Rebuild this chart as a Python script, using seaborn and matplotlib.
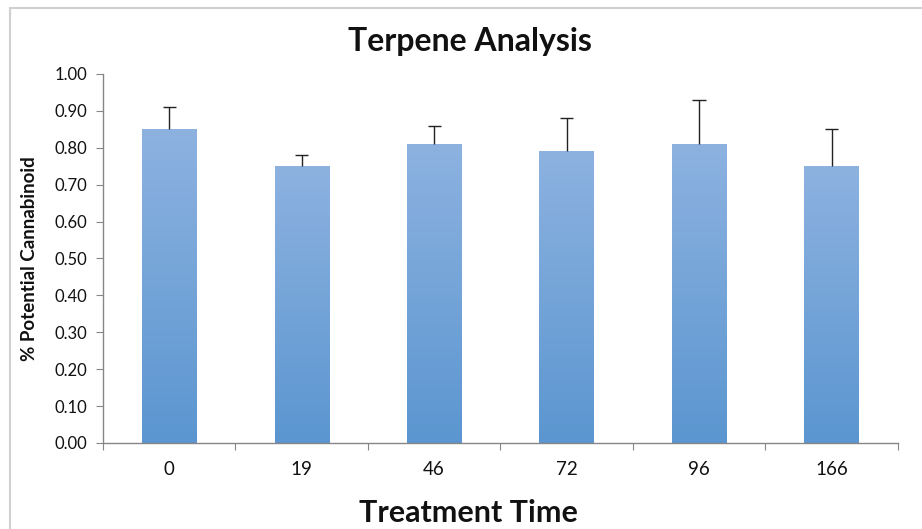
import numpy as np
import pandas as pd
import seaborn as sns
import matplotlib.pyplot as plt
from matplotlib.patches import Rectangle
from matplotlib.colors import LinearSegmentedColormap

# Data
times = ['0', '19', '46', '72', '96', '166']
means = [0.85, 0.75, 0.81, 0.79, 0.81, 0.75]
err_up = [0.06, 0.03, 0.05, 0.09, 0.12, 0.10]

df = pd.DataFrame({'time': times, 'value': means})

sns.set_style('white')
plt.rcParams['font.family'] = ['Lato', 'DejaVu Sans']
plt.rcParams['text.color'] = '#111111'
plt.rcParams['axes.labelcolor'] = '#111111'
plt.rcParams['xtick.labelcolor'] = '#111111'
plt.rcParams['ytick.labelcolor'] = '#111111'

fig = plt.figure(figsize=(9.22, 5.29), dpi=100)
ax = fig.add_axes([0.1117, 0.1626, 0.862, 0.6976])

sns.barplot(data=df, x='time', y='value', color='#79a7dc', width=0.41,
            errorbar=None, ax=ax, zorder=2)

# gradient fill for each bar (lighter top, darker bottom)
grad = LinearSegmentedColormap.from_list('bar', ['#5b96d0', '#8db2e0'])
gimg = np.linspace(0, 1, 256).reshape(-1, 1)
for p in ax.patches:
    x0, y0 = p.get_x(), p.get_y()
    w, h = p.get_width(), p.get_height()
    im = ax.imshow(gimg, cmap=grad, origin='lower', aspect='auto',
                   extent=[x0, x0 + w, y0, y0 + h], zorder=2.5)
    im.set_clip_path(p)

# upward-only error bars, cap only on top
xs = np.arange(len(times))
tops = np.array(means) + np.array(err_up)
ax.vlines(xs, means, tops, color='#222222', linewidth=1, zorder=3)
ax.hlines(tops, xs - 0.05, xs + 0.05, color='#222222', linewidth=1, zorder=3)

ax.set_xlim(-0.5, len(times) - 0.5)
ax.set_ylim(0, 1.0)
ax.set_yticks(np.arange(0, 1.01, 0.1))
ax.set_yticklabels([f'{v:.2f}' for v in np.arange(0, 1.01, 0.1)], fontsize=12)

# x ticks at category boundaries, labels centered
ax.set_xticks(np.arange(-0.5, len(times)), minor=False)
ax.set_xticklabels([])
ax.set_xticks(xs, minor=True)
ax.set_xticklabels(times, minor=True, fontsize=13.5)
ax.tick_params(axis='x', which='major', length=5, color='#868686', direction='out')
ax.tick_params(axis='x', which='minor', length=0, pad=13)
ax.tick_params(axis='y', length=5, color='#868686', direction='out', pad=6)
ax.tick_params(bottom=True, left=True)

for s in ['top', 'right']:
    ax.spines[s].set_visible(False)
for s in ['left', 'bottom']:
    ax.spines[s].set_color('#868686')
    ax.spines[s].set_linewidth(1)

ax.set_xlabel('')
ax.set_ylabel('% Potential Cannabinoid', fontsize=13.5, fontweight='bold', labelpad=12)

fig.text(0.51, 0.922, 'Terpene Analysis', ha='center', va='center',
         fontsize=23, fontweight='bold')
fig.text(0.508, 2 / 529, 'Treatment Time', ha='center', va='bottom',
         fontsize=22, fontweight='bold')

# light frame around the chart area
fig.patches.append(Rectangle((10 / 922, -0.1), 1.2, 1.1 - 8 / 529,
                             transform=fig.transFigure, fill=False,
                             edgecolor='#d0d0d0', linewidth=1.5, zorder=0))

fig.savefig('out.png', dpi=100)
